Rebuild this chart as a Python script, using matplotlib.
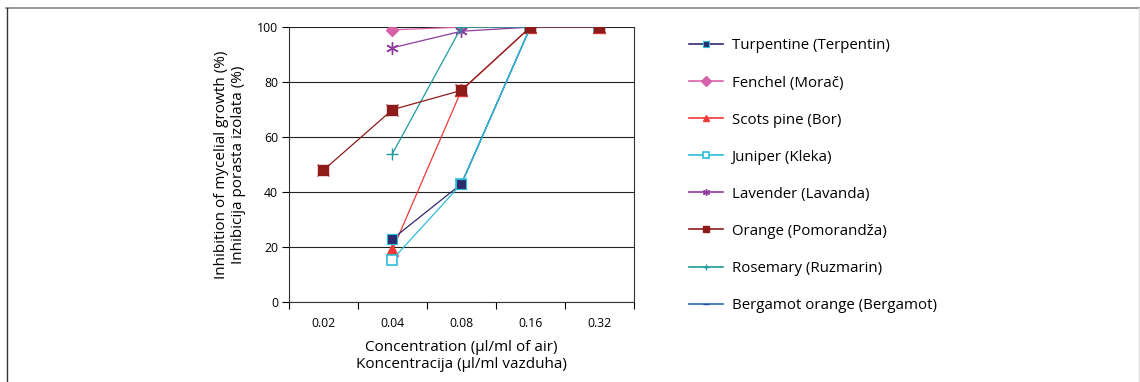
import numpy as np
import matplotlib
matplotlib.use("Agg")
import matplotlib.pyplot as plt
from matplotlib.lines import Line2D

plt.rcParams['font.family'] = ['Open Sans', 'DejaVu Sans']

concentrations = ['0.02', '0.04', '0.08', '0.16', '0.32']
nan = np.nan
turpentine = [nan, 23, 43, 100, 100]
fenchel = [nan, 99, 100, 100, 100]
scots_pine = [nan, 19, 77, 100, 100]
juniper = [nan, 15.5, 43, 100, 100]
lavender = [nan, 92.5, 98.5, 100, 100]
orange = [48, 70, 77, 100, 100]
rosemary = [nan, 54, 100, 100, 100]
bergamot = [nan, nan, 43, 100, 100]

labels = ['Turpentine (Terpentin)', 'Fenchel (Morač)', 'Scots pine (Bor)',
          'Juniper (Kleka)', 'Lavender (Lavanda)', 'Orange (Pomorandža)',
          'Rosemary (Ruzmarin)', 'Bergamot orange (Bergamot)']

fig = plt.figure(figsize=(11.4, 3.82), dpi=100)
ax = fig.add_axes([0.2535, 0.209, 0.3025, 0.72])

x = np.arange(len(concentrations))

# (values, colour, marker style, zorder)
styles = [
    (turpentine, '#2E2A6E', dict(marker='s', ms=7, mfc='#2E2A6E', mec='#2BBED6', mew=0.8), 3.3),
    (fenchel, '#D862AA', dict(marker='D', ms=6, mfc='#D862AA', mec='#D862AA'), 2),
    (scots_pine, '#F03A3A', dict(marker='^', ms=8, mfc='#F03A3A', mec='#F03A3A'), 3),
    (juniper, '#2BBED6', dict(marker='s', ms=7, mfc='white', mec='#2BBED6', mew=1.2), 3.6),
    (lavender, '#8E3A9E', dict(marker=(6, 2, 0), ms=9, mfc='#8E3A9E', mec='#8E3A9E', mew=1), 2),
    (orange, '#8E1A1A', dict(marker='s', ms=7, mfc='#8E1A1A', mec='#8E1A1A'), 5),
    (rosemary, '#1E9A9A', dict(marker='+', ms=9, mec='#1E9A9A', mew=1), 2),
    (bergamot, '#2A6FB8', dict(marker='_', ms=4, mec='#2A4BA8', mew=1), 3.5),
]

handles = []
for (vals, col, mk, z), lab in zip(styles, labels):
    ax.plot(x, vals, color=col, lw=0.9, zorder=z, **mk)
    lm = dict(mk)
    lm['ms'] = min(mk['ms'], 5)
    handles.append(Line2D([0], [0], color=col, lw=1.2, label=lab, **lm))

# turpentine markers drawn over the juniper ones
ax.plot(x[:3], turpentine[:3], ls='none', marker='s', ms=7, mfc='#2E2A6E',
        mec='#2BBED6', mew=0.8, zorder=4.5)
# x overlay on orange markers
ax.plot(x, orange, ls='none', marker='x', ms=9, mec='#8E1A1A', mew=0.8, zorder=5)

ax.set_xlim(-0.5, 4.5)
ax.set_ylim(0, 100)
ax.set_xticks(np.arange(-0.5, 5, 1))
ax.set_xticklabels([])
ax.set_xticks(x, minor=True)
ax.set_xticklabels(concentrations, minor=True, fontsize=8.8)
ax.tick_params(axis='x', which='minor', length=0, pad=11)
ax.tick_params(axis='x', which='major', length=5, direction='out', width=0.8)
ax.set_yticks(np.arange(0, 101, 20))
ax.tick_params(axis='y', labelsize=8.8, length=5, width=0.8, pad=3)
ax.grid(axis='y', color='#222222', lw=0.8)
ax.set_axisbelow(True)
for s in ['left', 'bottom', 'right']:
    ax.spines[s].set_color('#333333')
    ax.spines[s].set_linewidth(0.8)
ax.spines['top'].set_visible(False)

ax.set_xlabel('Concentration (µl/ml of air)\nKoncentracija (µl/ml vazduha)',
              fontsize=11, labelpad=7, linespacing=1.15)
ax.set_ylabel('Inhibition of mycelial growth (%)\nInhibicija porasta izolata (%)',
              fontsize=11, labelpad=8, linespacing=1.15)

fig.legend(handles=handles, loc='upper left', bbox_to_anchor=(0.599, 0.915),
           frameon=False, fontsize=10.8, labelspacing=1.47, handlelength=2.3,
           handletextpad=0.55, borderaxespad=0)

# frame lines around the figure
fig.add_artist(Line2D([0.005, 1.0], [0.98, 0.98], transform=fig.transFigure,
                      color='#888888', lw=1.2))
fig.add_artist(Line2D([0.0065, 0.0065], [0, 0.98], transform=fig.transFigure,
                      color='#333333', lw=1.0))
fig.add_artist(Line2D([0.999, 0.999], [0, 0.98], transform=fig.transFigure,
                      color='#dddddd', lw=1.0))

fig.savefig('out.png', dpi=100)
